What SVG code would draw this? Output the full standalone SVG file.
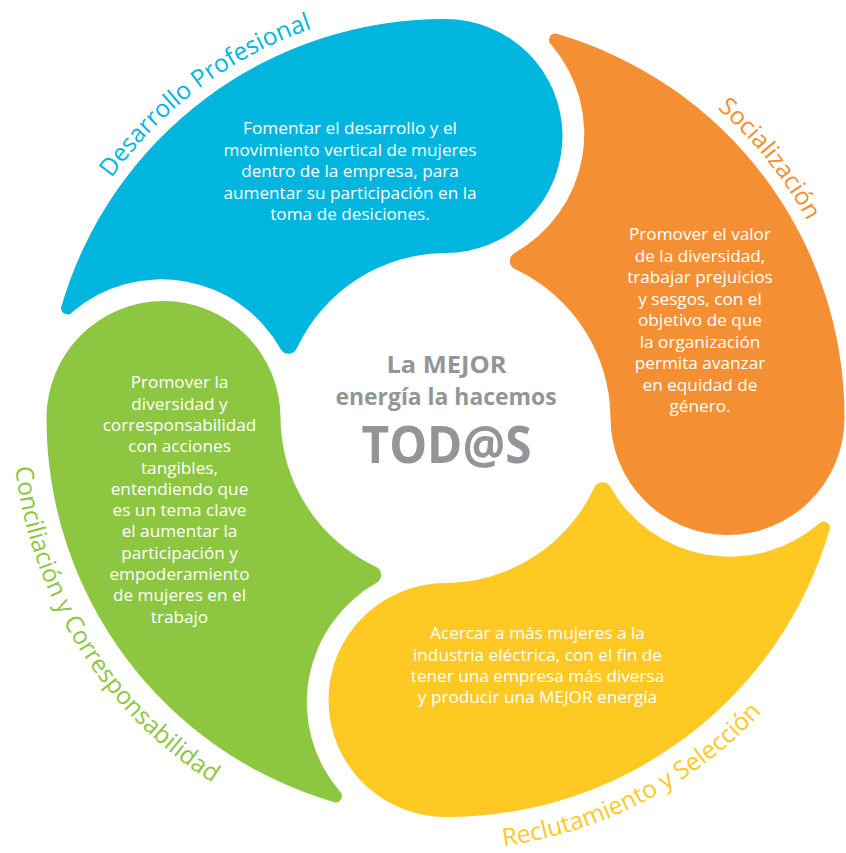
<svg xmlns="http://www.w3.org/2000/svg" width="846" height="853" viewBox="0 0 846 853">
<defs>
<path id="petal" d="M 72.4,312.0 A 6.3 6.3 0 0 1 61.3,306.8 A 399 399 0 0 1 445.5,19 A 117 117 0 0 1 562.5,136 A 117 117 0 0 1 445.5,253 A 165 165 0 0 0 296.6,348.7 A 9 9 0 0 1 280.9,349.5 A 137 137 0 0 0 72.4,312.0 Z"/>
<path id="arcDes" d="M 45.6,323.1 A 412 412 0 0 1 469.5,6.7"/>
<path id="arcSoc" d="M 659.9,66.2 A 412 412 0 0 1 835.9,286.2"/>
<path id="arcRec" d="M 463.6,849.6 A 432 432 0 0 0 787.8,681.6"/>
<path id="arcCon" d="M 19.1,342.8 A 433 433 0 0 0 326.2,834.2"/>
</defs>
<style>
.body{font-family:"Open Sans","Noto Sans",sans-serif;font-size:17.2px;fill:#ffffff;text-anchor:middle}
.lab{font-family:"Open Sans","Noto Sans",sans-serif;font-size:24.5px;text-anchor:middle}
.ctr{font-family:"Open Sans","Noto Sans",sans-serif;font-weight:700;fill:#939598;text-anchor:middle}
</style>
<rect width="846" height="853" fill="#ffffff"/>

<g id="desarrollo-profesional">
<use href="#petal" fill="#00B6DE"/>
<text class="body"><tspan x="350" y="134">Fomentar el desarrollo y el</tspan><tspan x="350" y="155.5">movimiento vertical de mujeres</tspan><tspan x="350" y="177">dentro de la empresa, para</tspan><tspan x="350" y="198.5">aumentar su participación en la</tspan><tspan x="350" y="220">toma de desiciones.</tspan></text>
<text class="lab" fill="#00B6DE"><textPath href="#arcDes" startOffset="50%">Desarrollo Profesional</textPath></text>
</g>

<g id="socializacion">
<use href="#petal" fill="#F58F33" transform="rotate(90 445.5 418)"/>
<text class="body"><tspan x="700" y="240">Promover el valor</tspan><tspan x="700" y="261.5">de la diversidad,</tspan><tspan x="700" y="283">trabajar prejuicios</tspan><tspan x="700" y="304.5">y sesgos, con el</tspan><tspan x="700" y="326">objetivo de que</tspan><tspan x="700" y="347.5">la organización</tspan><tspan x="700" y="369">permita avanzar</tspan><tspan x="700" y="390.5">en equidad de</tspan><tspan x="700" y="412">género.</tspan></text>
<text class="lab" fill="#F58F33"><textPath href="#arcSoc" startOffset="50%">Socialización</textPath></text>
</g>

<g id="reclutamiento-seleccion">
<use href="#petal" fill="#FEC923" transform="rotate(180 445.5 418)"/>
<text class="body"><tspan x="537.5" y="639.3">Acercar a más mujeres a la</tspan><tspan x="537.5" y="660.6">industria eléctrica, con el fin de</tspan><tspan x="537.5" y="681.9">tener una empresa más diversa</tspan><tspan x="537.5" y="703.2">y producir una MEJOR energía</tspan></text>
<text class="lab" fill="#FEC923"><textPath href="#arcRec" startOffset="50%">Reclutamiento y Selección</textPath></text>
</g>

<g id="conciliacion-corresponsabilidad">
<use href="#petal" fill="#8DC641" transform="rotate(270 445.5 418)"/>
<text class="body"><tspan x="179.5" y="388.3">Promover la</tspan><tspan x="179.5" y="409.6">diversidad y</tspan><tspan x="179.5" y="430.9">corresponsabilidad</tspan><tspan x="179.5" y="452.2">con acciones</tspan><tspan x="179.5" y="473.5">tangibles,</tspan><tspan x="179.5" y="494.8">entendiendo que</tspan><tspan x="179.5" y="516.1">es un tema clave</tspan><tspan x="179.5" y="537.4">el aumentar la</tspan><tspan x="179.5" y="558.7">participación y</tspan><tspan x="179.5" y="580">empoderamiento</tspan><tspan x="179.5" y="601.3">de mujeres en el</tspan><tspan x="179.5" y="622.6">trabajo</tspan></text>
<text class="lab" fill="#8DC641"><textPath href="#arcCon" startOffset="50%">Conciliación y Corresponsabilidad</textPath></text>
</g>

<g id="centro">
<text class="ctr" x="446.5" y="372.7" font-size="24" textLength="120" lengthAdjust="spacingAndGlyphs">La MEJOR</text>
<text class="ctr" x="446" y="405" font-size="24" textLength="221" lengthAdjust="spacingAndGlyphs">energía la hacemos</text>
<text class="ctr" x="446.5" y="463.3" font-size="52" textLength="170" lengthAdjust="spacingAndGlyphs">TOD@S</text>
</g>
</svg>
